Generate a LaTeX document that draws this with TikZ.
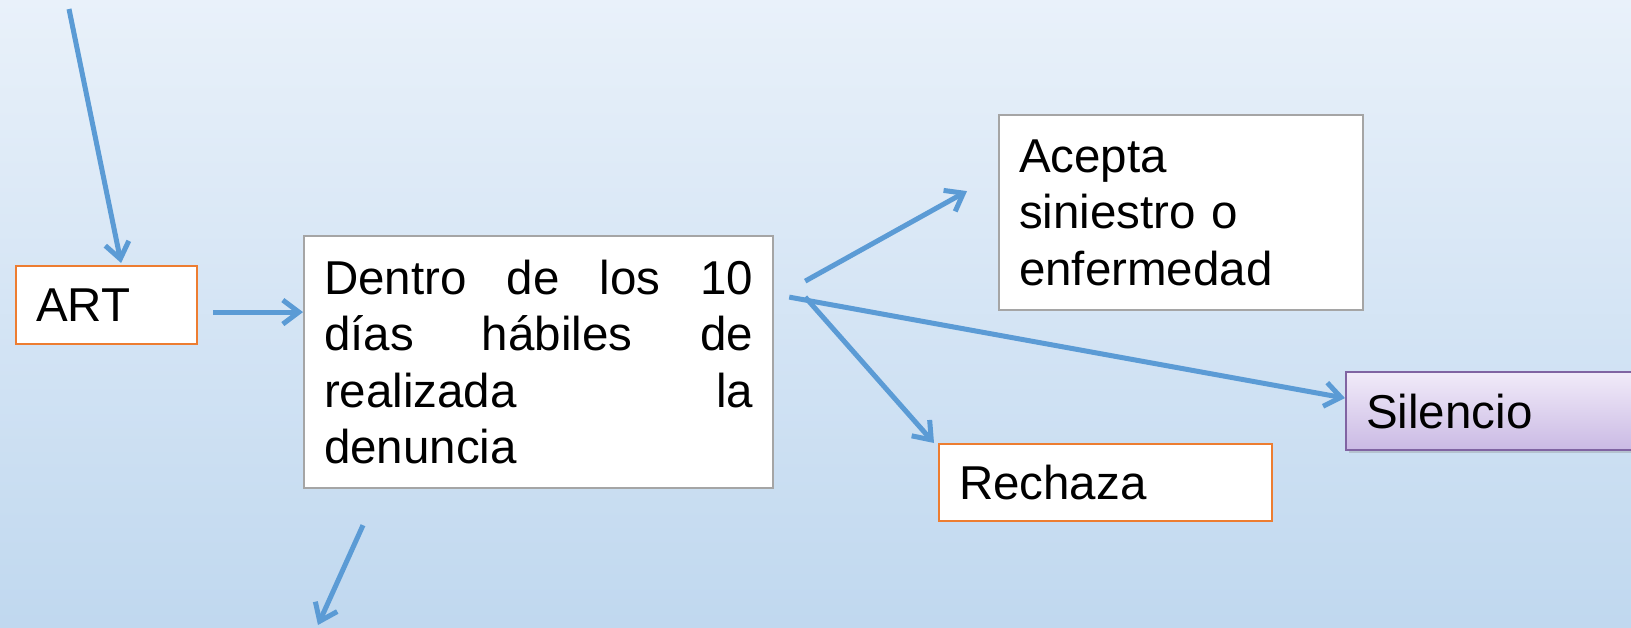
\documentclass[tikz,border=0pt]{standalone}
\usepackage{fontspec}
\setmainfont{Liberation Sans}
\usetikzlibrary{positioning,arrows.meta,shadows}

\definecolor{bgtop}{RGB}{233,241,250}
\definecolor{bgbot}{RGB}{192,216,239}
\definecolor{linkblue}{RGB}{91,155,213}
\definecolor{boxorange}{RGB}{237,125,49}
\definecolor{boxgray}{RGB}{165,165,165}
\definecolor{silborder}{RGB}{128,100,162}
\definecolor{siltop}{RGB}{241,235,249}
\definecolor{silbot}{RGB}{202,186,228}

% one justified line of the box text (words split by \hfill)
\newcommand{\jline}[1]{\makebox[214.5pt]{#1}}

\tikzstyle{box_base} = [draw,
						line width=1.1pt,
						fill=white,
						inner xsep=10pt,
						inner ysep=0pt,
						align=left,
						anchor=north west,
						font=\fontsize{23.75pt}{28.25pt}\selectfont]
\tikzstyle{box_gray} = [box_base,
						draw=boxgray]
\tikzstyle{box_orange} = [box_base,
						  draw=boxorange]
\tikzstyle{box_purple} = [box_base,
						  draw=silborder,
						  top color=siltop,
						  bottom color=silbot,
						  drop shadow={shadow xshift=1.5pt,
						  			   shadow yshift=-1.5pt,
						  			   opacity=.3}]
\tikzstyle{link} = [draw=linkblue,
					line width=2.5pt,
					-{Straight Barb[length=8pt,width=12pt]}]

\begin{document}
\begin{tikzpicture}[x=0.5pt,y=-0.5pt]

	\useasboundingbox (0,0) rectangle (1631,627);
	\shade[top color=bgtop,bottom color=bgbot] (0,0) rectangle (1631,627);
	\clip (0,0) rectangle (1631,627);

	%%%%%%%%%
	% BOXES %
	%%%%%%%%%
	\node[box_orange, text width=70.5pt, minimum height=39pt] (art) at (15,265) {ART};
	\node[box_gray, text width=214.5pt, minimum height=126pt] (den) at (303,235)
		{\jline{Dentro\hfill de\hfill los\hfill 10}\\
		 \jline{días\hfill hábiles\hfill de}\\
		 \jline{realizada\hfill la}\\
		 denuncia};
	\node[box_gray, text width=162pt, minimum height=97.5pt] (acp) at (998,114)
		{Acepta\\siniestro o\\enfermedad};
	\node[box_orange, text width=146.5pt, minimum height=38.5pt] (rech) at (938,443) {Rechaza};
	\node[box_purple, text width=150pt, minimum height=39pt] (sil) at (1345,371) {Silencio};

	%%%%%%%%%%
	% ARROWS %
	%%%%%%%%%%
	\coordinate (topin) at (69,9);
	\coordinate (artout) at ([xshift=7.5pt,yshift=-3.5pt]art.east);
	\coordinate (denout) at (318,625);

	\draw[link] (topin) -- ([xshift=7.25pt,yshift=1pt]art.north);
	\draw[link] (artout) -- (artout -| den.west);
	\draw[link] ([xshift=15.5pt,yshift=40.5pt]den.east) -- ([xshift=-15.5pt,yshift=10.75pt]acp.west);
	\draw[link] ([xshift=7.5pt,yshift=32.5pt]den.east) -- ([yshift=6.5pt]sil.west);
	\draw[link] ([xshift=15.5pt,yshift=32.5pt]den.east) -- ([xshift=-2pt]rech.north west);
	\draw[link] ([xshift=30pt,yshift=-18pt]den.south west) -- (denout);

\end{tikzpicture}
\end{document}
